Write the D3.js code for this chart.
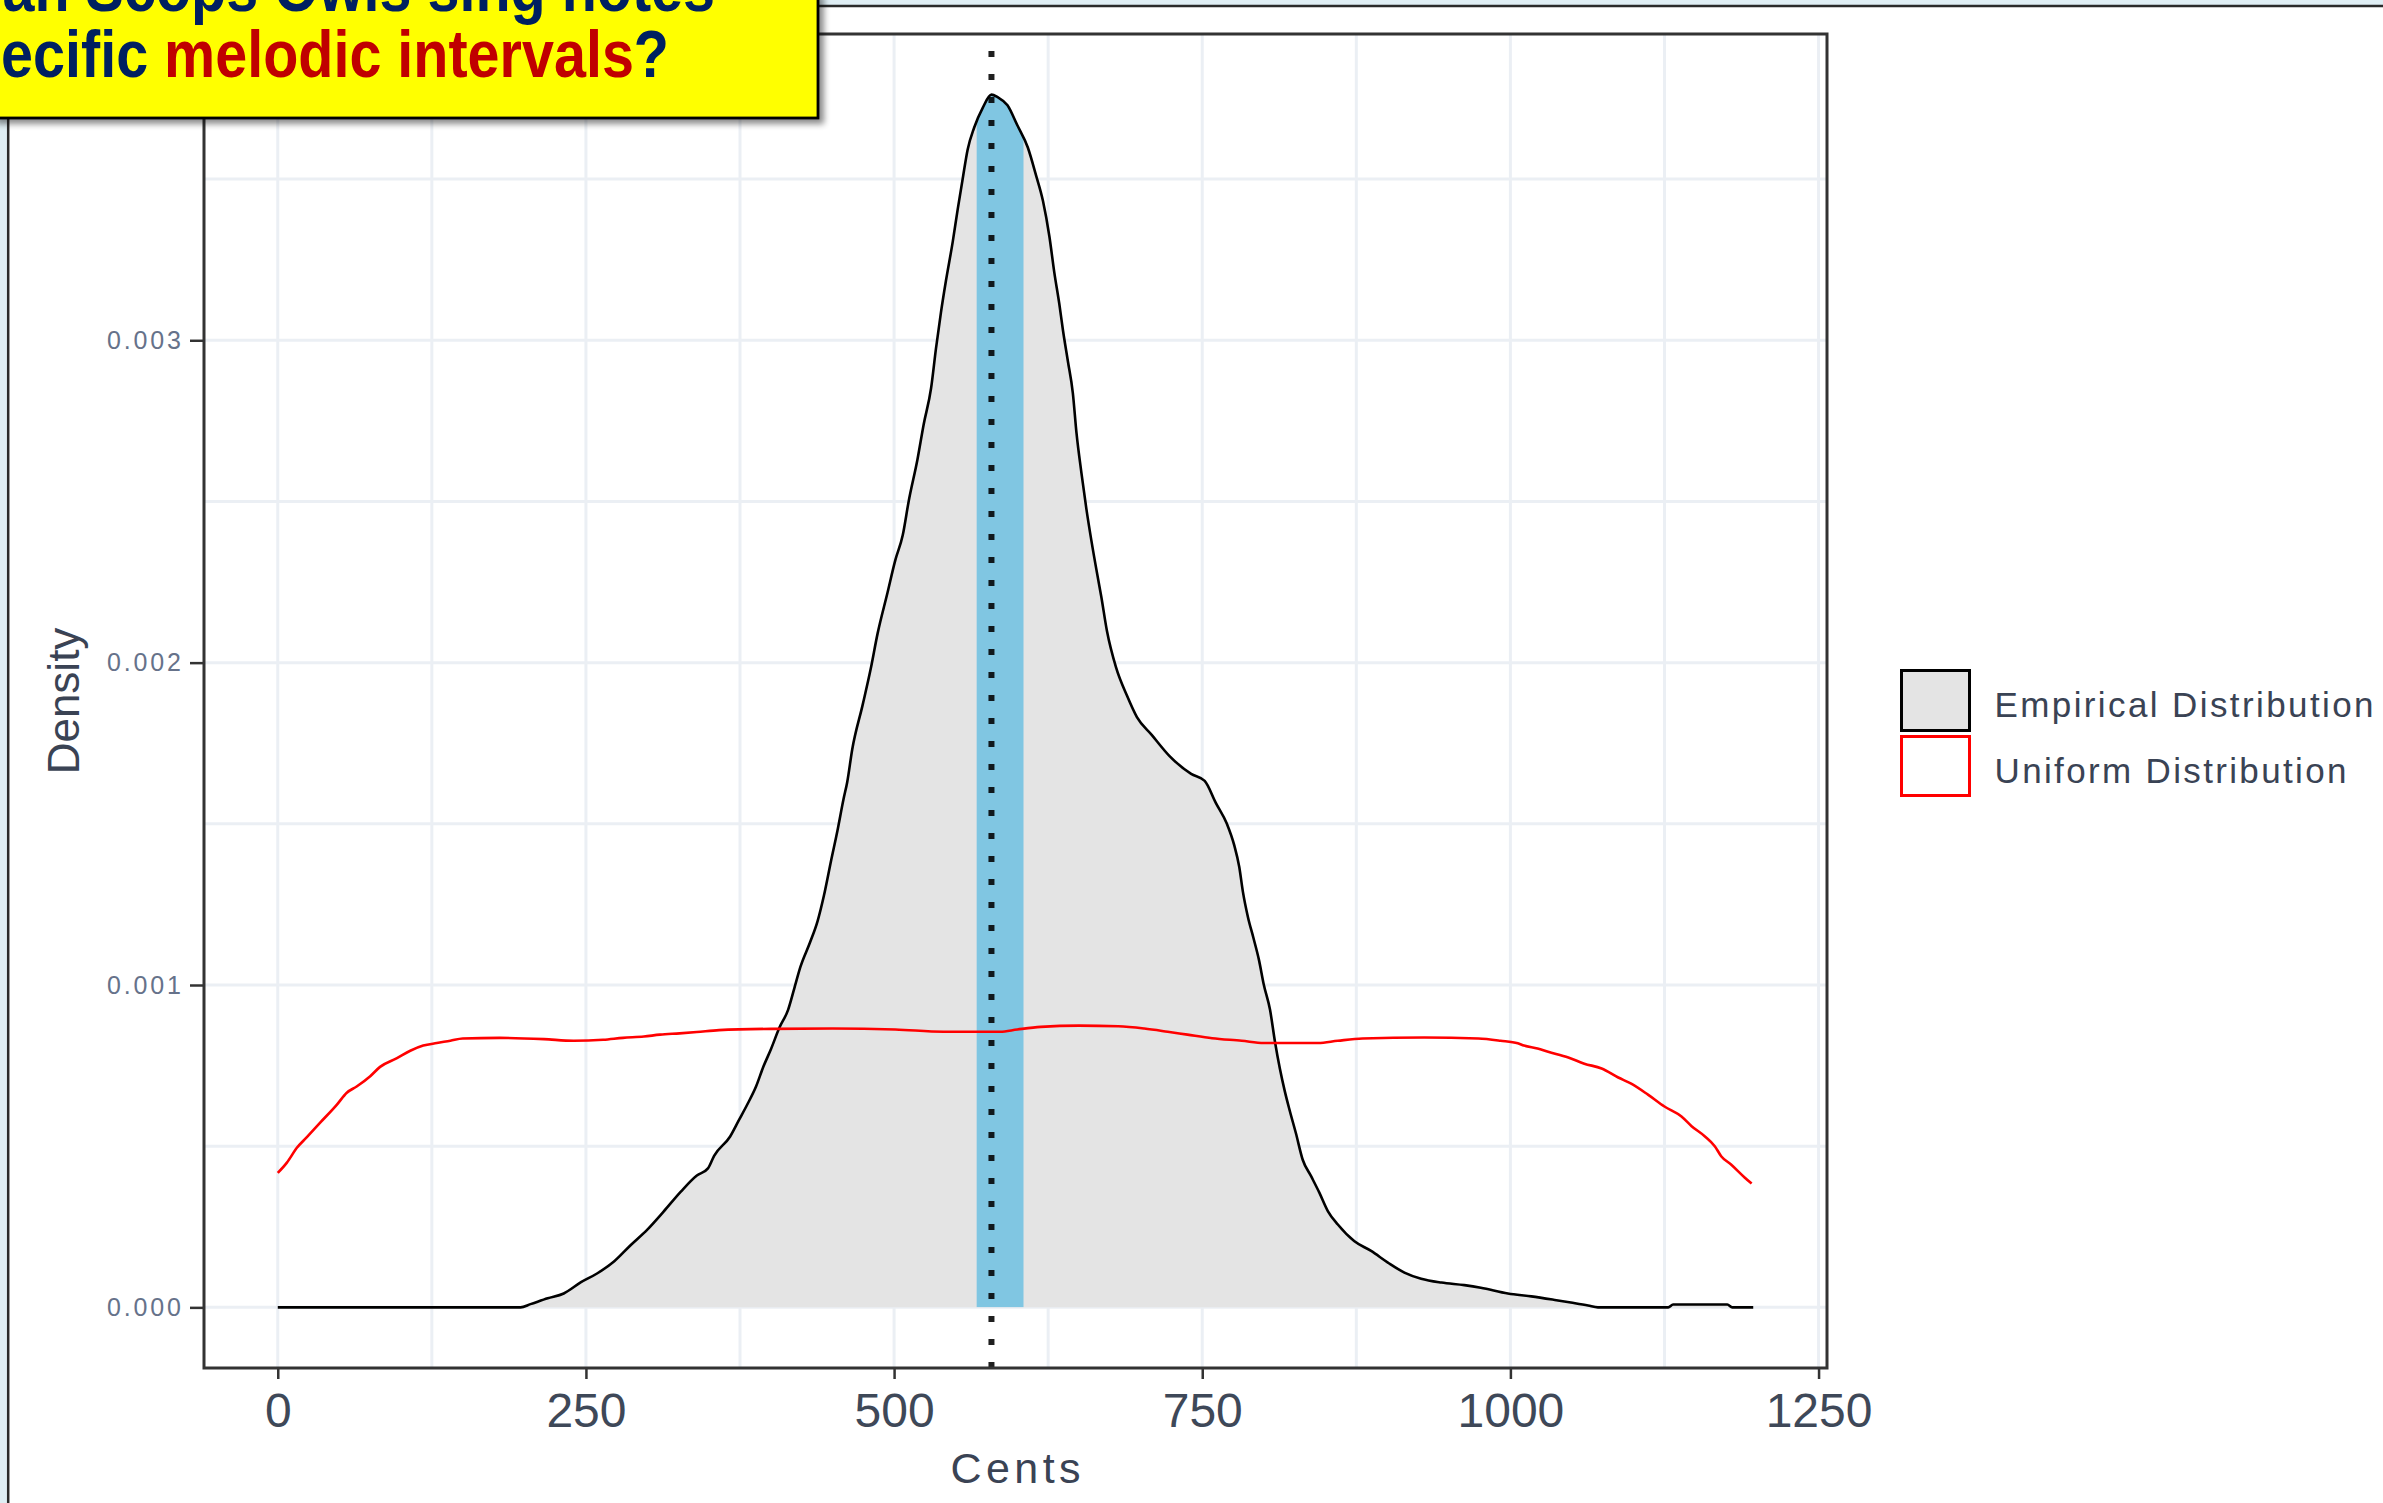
<!DOCTYPE html>
<html><head><meta charset="utf-8">
<script src="https://cdn.jsdelivr.net/npm/d3@7"></script>
<style>html,body{margin:0;padding:0;background:#fff;overflow:hidden}</style>
</head><body>
<svg id="c" width="2383" height="1503"></svg>
<script>
// ---------- data (density values in units of 1e-3) ----------
const empCents = [0,50,100,150,197,205,219,232,246,259,273,286,300,313,327,340,349,354,367,374,381,388,394,400,407,414,419,424,432,438,443,449,454,459,462,466,474.5,481,486.6,494.6,501,507,512,519,524,530,534,538,542,547.6,551.6,555.7,559.7,565,572,579,584,592,600,608.5,615,620.8,626,630,634,637,641,645,648,652,656,660,665,668,672.7,680,689,697,709,723.5,741,752,761,770,776,780,783,787,791.6,796,800,805,809,813,817,821,826,831.5,838.3,845,852,860,873.5,887,900.6,914,927.6,944,962.7,976,998,1017,1036,1049,1063,1071,1128,1132,1176,1180,1197];
const empDens  = [0,0,0,0,0,0.01,0.028,0.043,0.078,0.105,0.143,0.192,0.242,0.297,0.359,0.409,0.431,0.47,0.53,0.58,0.63,0.685,0.747,0.80,0.868,0.923,0.989,1.056,1.134,1.199,1.276,1.388,1.478,1.577,1.63,1.73,1.869,1.98,2.09,2.216,2.318,2.395,2.504,2.631,2.739,2.851,2.975,3.086,3.183,3.306,3.406,3.502,3.592,3.660,3.722,3.762,3.754,3.729,3.667,3.598,3.514,3.432,3.322,3.21,3.114,3.031,2.935,2.837,2.712,2.588,2.477,2.38,2.27,2.207,2.098,1.986,1.897,1.831,1.776,1.71,1.655,1.633,1.565,1.5,1.433,1.367,1.289,1.212,1.145,1.078,1.0,0.923,0.824,0.74,0.67,0.61,0.54,0.458,0.407,0.356,0.298,0.257,0.205,0.175,0.139,0.108,0.089,0.077,0.069,0.061,0.043,0.034,0.023,0.015,0.006,0,0,0.009,0.009,0,0];
const uniCents = [0,7.4,15.5,23.6,34.4,48,56,64,75,83,96.7,107.5,118,129,140,150,180,216,240,264,280,297,310,326,340,358,400,450,501,540,586,600,619,650,682,703,722,738,758,782,800,844,860,880,930,974,992,1006,1011,1022,1030.6,1047,1060,1074,1087.5,1098,1111.6,1125,1138.8,1147,1157.6,1165.8,1171,1179,1190,1195.7];
const uniDens  = [0.417,0.449,0.495,0.528,0.573,0.629,0.666,0.685,0.717,0.746,0.773,0.796,0.812,0.820,0.827,0.834,0.836,0.832,0.827,0.83,0.836,0.84,0.846,0.85,0.854,0.86,0.864,0.865,0.862,0.855,0.855,0.862,0.87,0.874,0.872,0.865,0.855,0.846,0.835,0.827,0.82,0.82,0.827,0.834,0.837,0.834,0.827,0.819,0.812,0.803,0.793,0.775,0.756,0.741,0.713,0.694,0.660,0.623,0.592,0.562,0.531,0.5,0.469,0.443,0.403,0.384];
const densityUnit = 1e-3;
const xTicks = [0,250,500,750,1000,1250];
const xTickLabels = ["0","250","500","750","1000","1250"];
const xMinor = [125,375,625,875,1125];
const yTicks = [0,0.001,0.002,0.003];
const yTickLabels = ["0.000","0.001","0.002","0.003"];
const yMinor = [0.0005,0.0015,0.0025,0.0035];
const meanCents = 579;
const band = [567,605];
const legendLabels = ["Empirical Distribution","Uniform Distribution"];
const xTitle = "Cents", yTitle = "Density";
const titleLine1 = "Do Italian Scops Owls sing notes";
const titleLine2 = [["at specific ","#002060"],["melodic intervals","#c00000"],["?","#002060"]];

// ---------- setup ----------
const svg = d3.select("#c");
const FONT = "'Liberation Sans', Arial, sans-serif";
const emp = empCents.map((c,i)=>({x:c,y:empDens[i]*densityUnit}));
const uni = uniCents.map((c,i)=>({x:c,y:uniDens[i]*densityUnit}));
const xmax = d3.max(empCents), ymax = d3.max(emp, d=>d.y);
const x = d3.scaleLinear().domain([-0.05*xmax, 1.05*xmax]).range([204,1827]);
const y = d3.scaleLinear().domain([-0.05*ymax, 1.05*ymax]).range([1368,34]);

// slide frame
svg.append("rect").attr("x",0).attr("y",0).attr("width",2383).attr("height",1503).attr("fill","#fff");
svg.append("rect").attr("x",0).attr("y",0).attr("width",2383).attr("height",5).attr("fill","#dfeef4");
svg.append("rect").attr("x",0).attr("y",0).attr("width",7).attr("height",1503).attr("fill","#dfeef4");
svg.append("line").attr("x1",0).attr("x2",2383).attr("y1",6).attr("y2",6).attr("stroke","#2a2a2a").attr("stroke-width",2.5);
svg.append("line").attr("x1",8.2).attr("x2",8.2).attr("y1",6).attr("y2",1503).attr("stroke","#2a2a2a").attr("stroke-width",2.5);

// grid
const g = svg.append("g");
const gridC = "#ebeff4";
g.selectAll(".gx").data(xTicks.concat(xMinor).filter(v=>x(v)<1827)).enter().append("line")
  .attr("x1",d=>x(d)).attr("x2",d=>x(d)).attr("y1",35).attr("y2",1367).attr("stroke",gridC).attr("stroke-width",3);
g.selectAll(".gy").data(yTicks.concat(yMinor)).enter().append("line")
  .attr("y1",d=>y(d)).attr("y2",d=>y(d)).attr("x1",205).attr("x2",1826).attr("stroke",gridC).attr("stroke-width",3);

// density area
const area = d3.area().x(d=>x(d.x)).y0(y(0)).y1(d=>y(d.y)).curve(d3.curveMonotoneX);
const line = d3.line().x(d=>x(d.x)).y(d=>y(d.y)).curve(d3.curveMonotoneX);
const defs = svg.append("defs");
defs.append("clipPath").attr("id","under").append("path").attr("d",area(emp));
const blur = defs.append("filter").attr("id","sh").attr("x","-10%").attr("y","-10%").attr("width","130%").attr("height","140%");
blur.append("feGaussianBlur").attr("stdDeviation",3);

g.append("path").attr("d",area(emp)).attr("fill","#e4e4e4");
g.append("rect").attr("clip-path","url(#under)")
  .attr("x",x(band[0])).attr("width",x(band[1])-x(band[0]))
  .attr("y",y(0.004)).attr("height",y(0)-y(0.004)).attr("fill","#80c6e2");
g.append("line").attr("x1",x(meanCents)).attr("x2",x(meanCents)).attr("y1",1368).attr("y2",34)
  .attr("stroke","#000").attr("stroke-opacity",0.88).attr("stroke-width",6).attr("stroke-dasharray","6 17");
g.append("path").attr("d",line(emp)).attr("fill","none").attr("stroke","#000").attr("stroke-width",2.6);
g.append("path").attr("d",line(uni)).attr("fill","none").attr("stroke","#ff0000").attr("stroke-width",2.6);

// panel border
svg.append("rect").attr("x",204).attr("y",34).attr("width",1623).attr("height",1334)
  .attr("fill","none").attr("stroke","#333").attr("stroke-width",3);

// axes
const xAxis = svg.append("g").attr("transform","translate(0,1368)")
  .call(d3.axisBottom(x).tickValues(xTicks).tickFormat((d,i)=>xTickLabels[i]).tickSize(11).tickPadding(14));
xAxis.select(".domain").remove();
xAxis.selectAll(".tick line").attr("stroke","#333").attr("stroke-width",2.5);
xAxis.selectAll(".tick text").attr("font-family",FONT).attr("font-size",48).attr("fill","#3e4858");
const yAxis = svg.append("g").attr("transform","translate(204,0)")
  .call(d3.axisLeft(y).tickValues(yTicks).tickFormat((d,i)=>yTickLabels[i]).tickSize(14).tickPadding(9));
yAxis.select(".domain").remove();
yAxis.selectAll(".tick line").attr("stroke","#333").attr("stroke-width",2.5);
yAxis.selectAll(".tick text").attr("font-family",FONT).attr("font-size",25).attr("fill","#66728a")
  .attr("textLength",74).attr("lengthAdjust","spacing");

svg.append("text").attr("x",1015.5).attr("y",1483).attr("text-anchor","middle")
  .attr("font-family",FONT).attr("font-size",43).attr("fill","#3a4354")
  .attr("textLength",130).attr("lengthAdjust","spacing").text(xTitle);
svg.append("text").attr("transform","translate(79,701) rotate(-90)").attr("text-anchor","middle")
  .attr("font-family",FONT).attr("font-size",44).attr("fill","#3a4354").text(yTitle);

// legend
svg.append("rect").attr("x",1901.5).attr("y",670.5).attr("width",68).attr("height",60)
  .attr("fill","#e4e4e4").attr("stroke","#000").attr("stroke-width",3);
svg.append("rect").attr("x",1901.5).attr("y",736.5).attr("width",68).attr("height",59)
  .attr("fill","#fff").attr("stroke","#ff0000").attr("stroke-width",3);
const legW = [379,352];
const legY = [716.5,783];
legendLabels.forEach((t,i)=>{
  svg.append("text").attr("x",1994.5).attr("y",legY[i]).attr("font-family",FONT).attr("font-size",35)
    .attr("fill","#3a4354").attr("textLength",legW[i]).attr("lengthAdjust","spacing").text(t);
});

// title box
svg.append("rect").attr("x",-10).attr("y",-10).attr("width",828).attr("height",128)
  .attr("transform","translate(6,6)").attr("fill","#000").attr("opacity",0.45).attr("filter","url(#sh)");
svg.append("rect").attr("x",-10).attr("y",-10).attr("width",828).attr("height",128)
  .attr("fill","#ffff00").attr("stroke","#000").attr("stroke-width",2.8);
const TF = "'Liberation Sans', Arial, sans-serif";
const tmp = svg.append("text").attr("font-family",TF).attr("font-weight","bold").attr("font-size",67).text("melodic intervals?");
const natural = tmp.node().getComputedTextLength(); tmp.remove();
const s = 505/natural;
const tg = svg.append("g").attr("transform",`scale(${s},1)`);
const tt = tg.append("text").attr("text-anchor","end").attr("font-family",TF).attr("font-weight","bold").attr("font-size",67);
tt.append("tspan").attr("x",715/s).attr("y",11).attr("fill","#002060").text(titleLine1);
titleLine2.forEach(([t,c],i)=>{
  const sp = tt.append("tspan").attr("fill",c).text(t);
  if(i===0) sp.attr("x",669/s).attr("y",77);
});
</script>
</body></html>
